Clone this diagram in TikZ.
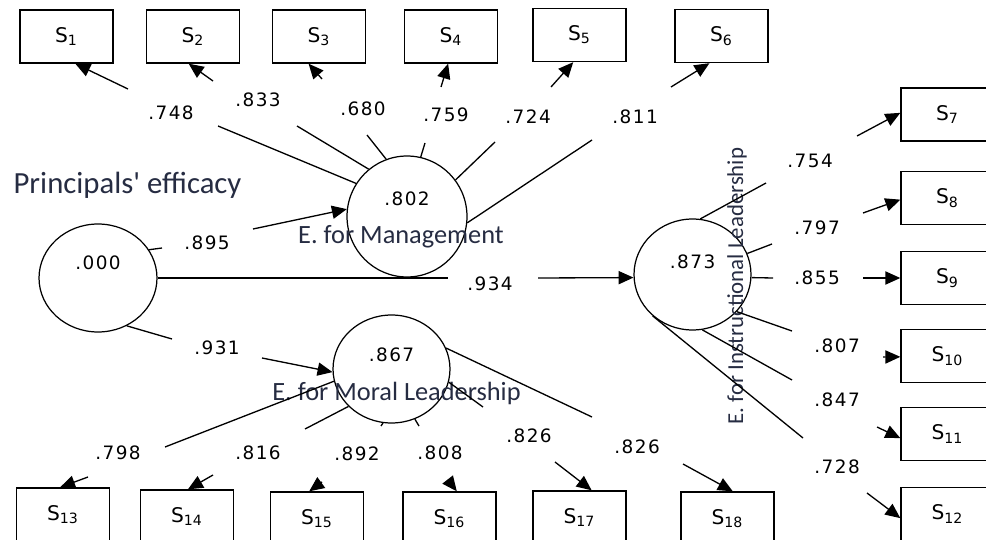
\documentclass[tikz,border=0pt]{standalone}
\usepackage{fontspec}
\usetikzlibrary{arrows.meta,shapes.geometric}
\newfontfamily\coeffont[LetterSpace=8]{DejaVu Sans}
\newfontfamily\varfont{DejaVu Sans}
\newfontfamily\labfont[Ligatures=TeXOff]{Carlito}
\definecolor{labtext}{HTML}{262C42}

\begin{document}
\begin{tikzpicture}[x=0.02cm,y=-0.02cm,
  lat/.style={ellipse,draw,line width=0.7pt,inner sep=0pt},
  obs/.style={rectangle,draw,line width=0.8pt,minimum width=1.86cm,minimum height=1.06cm,inner sep=0pt,font=\varfont\fontsize{11.5}{13}\selectfont},
  coef/.style={font=\coeffont\fontsize{10.5}{12}\selectfont,inner sep=1pt},
  lab/.style={font=\labfont,text=labtext,inner sep=1pt},
  ln/.style={line width=0.75pt},
  arr/.style={line width=0.75pt,-{Triangle[length=8.5pt,width=7.5pt]}}]
\useasboundingbox (0,0) rectangle (986,540);

% latent variables
\node[lat,minimum width=2.36cm,minimum height=2.16cm,label={[coef,yshift=0.30cm]center:.000}] (P) at (98,278) {};
\node[lat,minimum width=2.40cm,minimum height=2.42cm,label={[coef,yshift=0.36cm]center:.802}] (Mg) at (407,216.5) {};
\node[lat,minimum width=2.34cm,minimum height=2.16cm,label={[coef,yshift=0.28cm]center:.867}] (Mo) at (391.5,369) {};
\node[lat,minimum width=2.34cm,minimum height=2.22cm,label={[coef,yshift=0.26cm]center:.873}] (In) at (692.5,274.5) {};

\node[lab,font=\labfont\fontsize{17.5}{19}\selectfont] (tP) at (127.5,185) {Principals' efficacy};
\node[lab,font=\labfont\fontsize{15}{17}\selectfont] (tMg) at (401,237) {E. for Management};
\node[lab,font=\labfont\fontsize{15}{17}\selectfont] (tMo) at (396.5,393) {E. for Moral Leadership};
\node[lab,font=\labfont\fontsize{13}{15}\selectfont,rotate=90] (tIn) at (737,286) {E. for Instructional Leadership};

% indicators
\node[obs] (s1) at (66.5,36.5) {S\textsubscript{1}};
\node[obs] (s2) at (193,36.5) {S\textsubscript{2}};
\node[obs] (s3) at (319,36.5) {S\textsubscript{3}};
\node[obs] (s4) at (451,36.5) {S\textsubscript{4}};
\node[obs] (s5) at (579.5,35) {S\textsubscript{5}};
\node[obs] (s6) at (721.5,36) {S\textsubscript{6}};
\node[obs] (s7) at (947.5,114.5) {S\textsubscript{7}};
\node[obs] (s8) at (947.5,198) {S\textsubscript{8}};
\node[obs] (s9) at (947.5,278) {S\textsubscript{9}};
\node[obs] (s10) at (947.5,356) {S\textsubscript{10}};
\node[obs] (s11) at (947.5,434) {S\textsubscript{11}};
\node[obs] (s12) at (947.5,514) {S\textsubscript{12}};
\node[obs] (s13) at (63,514.5) {S\textsubscript{13}};
\node[obs] (s14) at (187,516.5) {S\textsubscript{14}};
\node[obs] (s15) at (317,518.5) {S\textsubscript{15}};
\node[obs] (s16) at (449.5,518.5) {S\textsubscript{16}};
\node[obs] (s17) at (579.5,517.5) {S\textsubscript{17}};
\node[obs] (s18) at (727.5,518.5) {S\textsubscript{18}};

% principals' efficacy -> dimensions
\coordinate (pa1) at (162,248); \coordinate (pb1) at (253,229);
\coordinate (pa2) at (448,278); \coordinate (pb2) at (538,278);
\coordinate (pa3) at (172,339); \coordinate (pb3) at (262,358);
\draw[ln] (P.29) -- (pa1);
\draw[arr] (pb1) -- (Mg.173);
\node[coef] (c01) at (207,243) {.895};
\draw[ln] (P.east) -- (pa2);
\draw[arr] (pb2) -- (In.183);
\node[coef] (c02) at (490,284) {.934};
\draw[ln] (P.-59) -- (pa3);
\draw[arr] (pb3) -- (Mo.183);
\node[coef] (c03) at (217,348) {.931};

% management -> S1..S6
\coordinate (ma1) at (218,126); \coordinate (mb1) at (128,89);
\coordinate (ma2) at (297,126); \coordinate (mb2) at (213,81);
\coordinate (ma3) at (367,135); \coordinate (mb3) at (322,79);
\coordinate (ma4) at (425,143); \coordinate (mb4) at (441,87);
\coordinate (ma5) at (495,142); \coordinate (mb5) at (551,87);
\coordinate (ma6) at (592,140); \coordinate (mb6) at (671,87);
\draw[ln] (Mg.147) -- (ma1);
\draw[arr] (mb1) -- (s1.-72);
\node[coef] (c1) at (171,113) {.748};
\draw[ln] (Mg.129) -- (ma2);
\draw[arr] (mb2) -- (s2.-99);
\node[coef] (c2) at (258,100) {.833};
\draw[ln] (Mg.110) -- (ma3);
\draw[arr] (mb3) -- (s3.-111);
\node[coef] (c3) at (363,109) {.680};
\draw[ln] (Mg.77) -- (ma4);
\draw[arr] (mb4) -- (s4.-96);
\node[coef] (c4) at (446,115) {.759};
\draw[ln] (Mg.37) -- (ma5);
\draw[arr] (mb5) -- (s5.-103);
\node[coef] (c5) at (528,117) {.724};
\draw[ln] (Mg.-6) -- (ma6);
\draw[arr] (mb6) -- (s6.-114);
\node[coef] (c6) at (635,117) {.811};

% instructional leadership -> S7..S12
\coordinate (ia7) at (766,183); \coordinate (ib7) at (857,136);
\coordinate (ia8) at (772,244); \coordinate (ib8) at (863,213);
\coordinate (ia9) at (773,278); \coordinate (ib9) at (863,278);
\coordinate (ia10) at (792,331); \coordinate (ib10) at (883,357);
\coordinate (ia11) at (792,380); \coordinate (ib11) at (877,427);
\coordinate (ia12) at (803,438); \coordinate (ib12) at (867,493);
\draw[ln] (In.82) -- (ia7);
\draw[arr] (ib7) -- (s7.178);
\node[coef] (c7) at (810,161) {.754};
\draw[ln] (In.21) -- (ia8);
\draw[arr] (ib8) -- (s8.182);
\node[coef] (c8) at (817,228) {.797};
\draw[ln] (In.-3) -- (ia9);
\draw[arr] (ib9) -- (s9.west);
\node[coef] (c9) at (817,278) {.855};
\draw[ln] (In.-40) -- (ia10);
\draw[arr] (ib10) -- (s10.181);
\node[coef] (c10) at (837,346) {.807};
\draw[ln] (In.-80) -- (ia11);
\draw[arr] (ib11) -- (s11.185);
\node[coef] (c11) at (837,400) {.847};
\draw[ln] (In.-134) -- (ia12);
\draw[arr] (ib12) -- (s12.185);
\node[coef] (c12) at (837,467) {.728};

% moral leadership -> S13..S18
\coordinate (oa13) at (165,447); \coordinate (ob13) at (88,477);
\coordinate (oa14) at (305,429); \coordinate (ob14) at (213,475);
\coordinate (oa15) at (381,426); \coordinate (ob15) at (322,482);
\coordinate (oa16) at (419,426); \coordinate (ob16) at (448,480);
\coordinate (oa17) at (483,407); \coordinate (ob17) at (555,462);
\coordinate (oa18) at (592,417); \coordinate (ob18) at (683,464);
\draw[ln] (Mo.192) -- (oa13);
\draw[arr] (ob13) -- (s13.96);
\node[coef] (c13) at (118,453) {.798};
\draw[ln] (Mo.221) -- (oa14);
\draw[arr] (ob14) -- (s14.88);
\node[coef] (c14) at (258,453) {.816};
\draw[ln] (Mo.261) -- (oa15);
\draw[arr] (ob15) -- (s15.106);
\node[coef] (c15) at (357,454) {.892};
\draw[ln] (Mo.295) -- (oa16);
\draw[arr] (ob16) -- (s16.75);
\node[coef] (c16) at (440,453) {.808};
\draw[ln] (Mo.347) -- (oa17);
\draw[arr] (ob17) -- (s17.66);
\node[coef] (c17) at (529,436) {.826};
\draw[ln] (Mo.21) -- (oa18);
\draw[arr] (ob18) -- (s18.79);
\node[coef] (c18) at (637,447) {.826};
\end{tikzpicture}
\end{document}
